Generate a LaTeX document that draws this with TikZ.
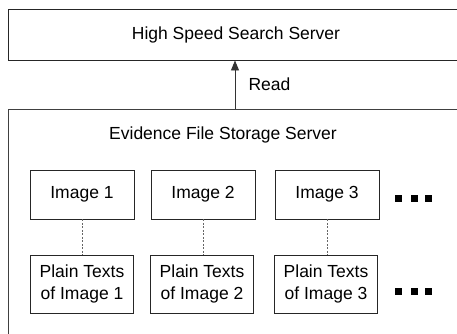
\documentclass[tikz,border=0pt]{standalone}
\usepackage{fontspec}
\setmainfont{Liberation Sans}
\usetikzlibrary{arrows.meta}
\begin{document}
\begin{tikzpicture}[x=1pt,y=-1pt,
  box/.style={draw=black!85,line width=0.9pt,rectangle,inner sep=0pt,font=\fontsize{17.5}{22.5}\selectfont,align=center},
  imgbox/.style={box,minimum width=104pt,minimum height=49pt},
  txtbox/.style={box,minimum width=103pt,minimum height=58pt},
  link/.style={draw=black!60,line width=0.8pt,dash pattern=on 2pt off 1.5pt},
  dot/.style={fill=black,minimum size=7pt,inner sep=0pt,rectangle},
  lbl/.style={font=\fontsize{17.5}{20}\selectfont}]
\useasboundingbox (0,0) rectangle (457,333);
\node[box,minimum width=456pt,minimum height=51pt] (hs) at (236,34.5) {High Speed Search Server};
\node[box,draw=black!75,minimum width=456pt,minimum height=240pt] (ef) at (236,229) {};
\node[lbl] (eft) at (223,135) {Evidence File Storage Server};
\draw[draw=black!80,line width=0.9pt,-{Triangle[length=10pt,width=8pt]}] (ef.north -| 235,0) coordinate (a0) -- (hs.south -| a0);
\node[lbl,anchor=west] (rd) at (245,84) {Read};
\node[imgbox] (i1) at (82,194.5) {Image 1};
\node[imgbox] (i2) at (203,194.5) {Image 2};
\node[imgbox] (i3) at (327,194.5) {Image 3};
\node[txtbox] (p1) at (82,284) {Plain Texts\\of Image 1};
\node[txtbox] (p2) at (202,284) {Plain Texts\\of Image 2};
\node[txtbox] (p3) at (326,284) {Plain Texts\\of Image 3};
\draw[link] (i1.south) -- (i1.south |- p1.north);
\draw[link] (i2.south) -- (i2.south |- p2.north);
\draw[link] (i3.south) -- (i3.south |- p3.north);
\node[dot] (d1) at (398.5,198) {};
\node[dot] (d2) at (414,198) {};
\node[dot] (e1) at (398.5,291) {};
\node[dot] (d3) at (428.5,198) {};
\node[dot] (e2) at (414,291) {};
\node[dot] (e3) at (428.5,291) {};
\end{tikzpicture}
\end{document}
